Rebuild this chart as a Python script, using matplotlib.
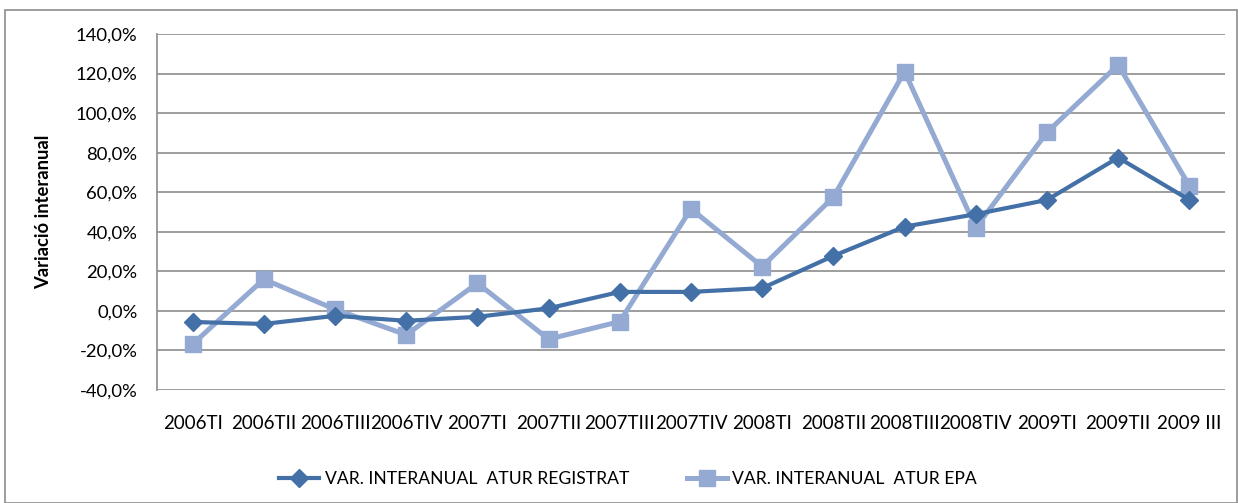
import matplotlib
matplotlib.use("Agg")
import matplotlib.pyplot as plt
from matplotlib.patches import Rectangle
from matplotlib.lines import Line2D

categories = ["2006TI", "2006TII", "2006TIII", "2006TIV", "2007TI", "2007TII", "2007TIII",
              "2007TIV", "2008TI", "2008TII", "2008TIII", "2008TIV", "2009TI", "2009TII", "2009 III"]
registrat = [-5.6, -6.6, -2.5, -5.0, -3.0, 1.3, 9.6, 9.6, 11.5, 27.8, 42.6, 48.9, 56.1, 77.5, 56.1]
epa = [-16.8, 16.0, 0.8, -12.1, 14.0, -14.3, -5.4, 51.6, 22.4, 57.5, 121.0, 42.1, 90.3, 124.4, 63.2]
yticks = [-40, -20, 0, 20, 40, 60, 80, 100, 120, 140]

dark = "#4470A8"
light = "#94AAD2"
font = "Lato"
plt.rcParams['font.family'] = [font, 'DejaVu Sans']

W, H = 1238, 503
fig = plt.figure(figsize=(W/100, H/100), dpi=100)
fig.patches.append(Rectangle((5/W, 0), (W-6)/W, (H-10)/H, transform=fig.transFigure,
                             fill=False, edgecolor="#8C8C8C", linewidth=1.2))

ax = fig.add_axes([157/W, 1-390/H, (1225-157)/W, (390-34)/H])
x = list(range(len(categories)))
ax.plot(x, epa, color=light, linewidth=3.6, marker="s", markersize=12, zorder=3)
ax.plot(x, registrat, color=dark, linewidth=3.0, marker="D", markersize=9, zorder=4)

ax.set_xlim(-0.5, len(categories) - 0.5)
ax.set_ylim(-40, 140)
ax.set_yticks(yticks)
ax.set_yticklabels([f"{v:.1f}%".replace(".", ",") for v in yticks], fontsize=13.3)
ax.set_xticks(x)
ax.set_xticklabels(categories, fontsize=13.5)
ax.tick_params(axis="both", length=0)
ax.tick_params(axis="x", pad=18)
ax.tick_params(axis="y", pad=14)
ax.grid(axis="y", color="#8C8C8C", linewidth=1.2)
ax.set_axisbelow(True)
for s in ["top", "right", "bottom"]:
    ax.spines[s].set_visible(False)
ax.spines["left"].set_color("#8C8C8C")
ax.spines["left"].set_linewidth(1.2)
ax.set_ylabel("Variació interanual", fontsize=13.2, fontweight="bold")
ax.yaxis.set_label_coords((52 - 157) / (1225 - 157), 0.5)

handles = [Line2D([], [], color=dark, linewidth=3.0, marker="D", markersize=9),
           Line2D([], [], color=light, linewidth=3.6, marker="s", markersize=12)]
fig.legend(handles, ["VAR. INTERANUAL  ATUR REGISTRAT", "VAR. INTERANUAL  ATUR EPA"],
           loc="center", bbox_to_anchor=(628/W, 1-479/H), ncol=2, frameon=False,
           fontsize=12.6, handlelength=2.3, columnspacing=3.3, handletextpad=0.3)

fig.savefig("out.png", dpi=100)
